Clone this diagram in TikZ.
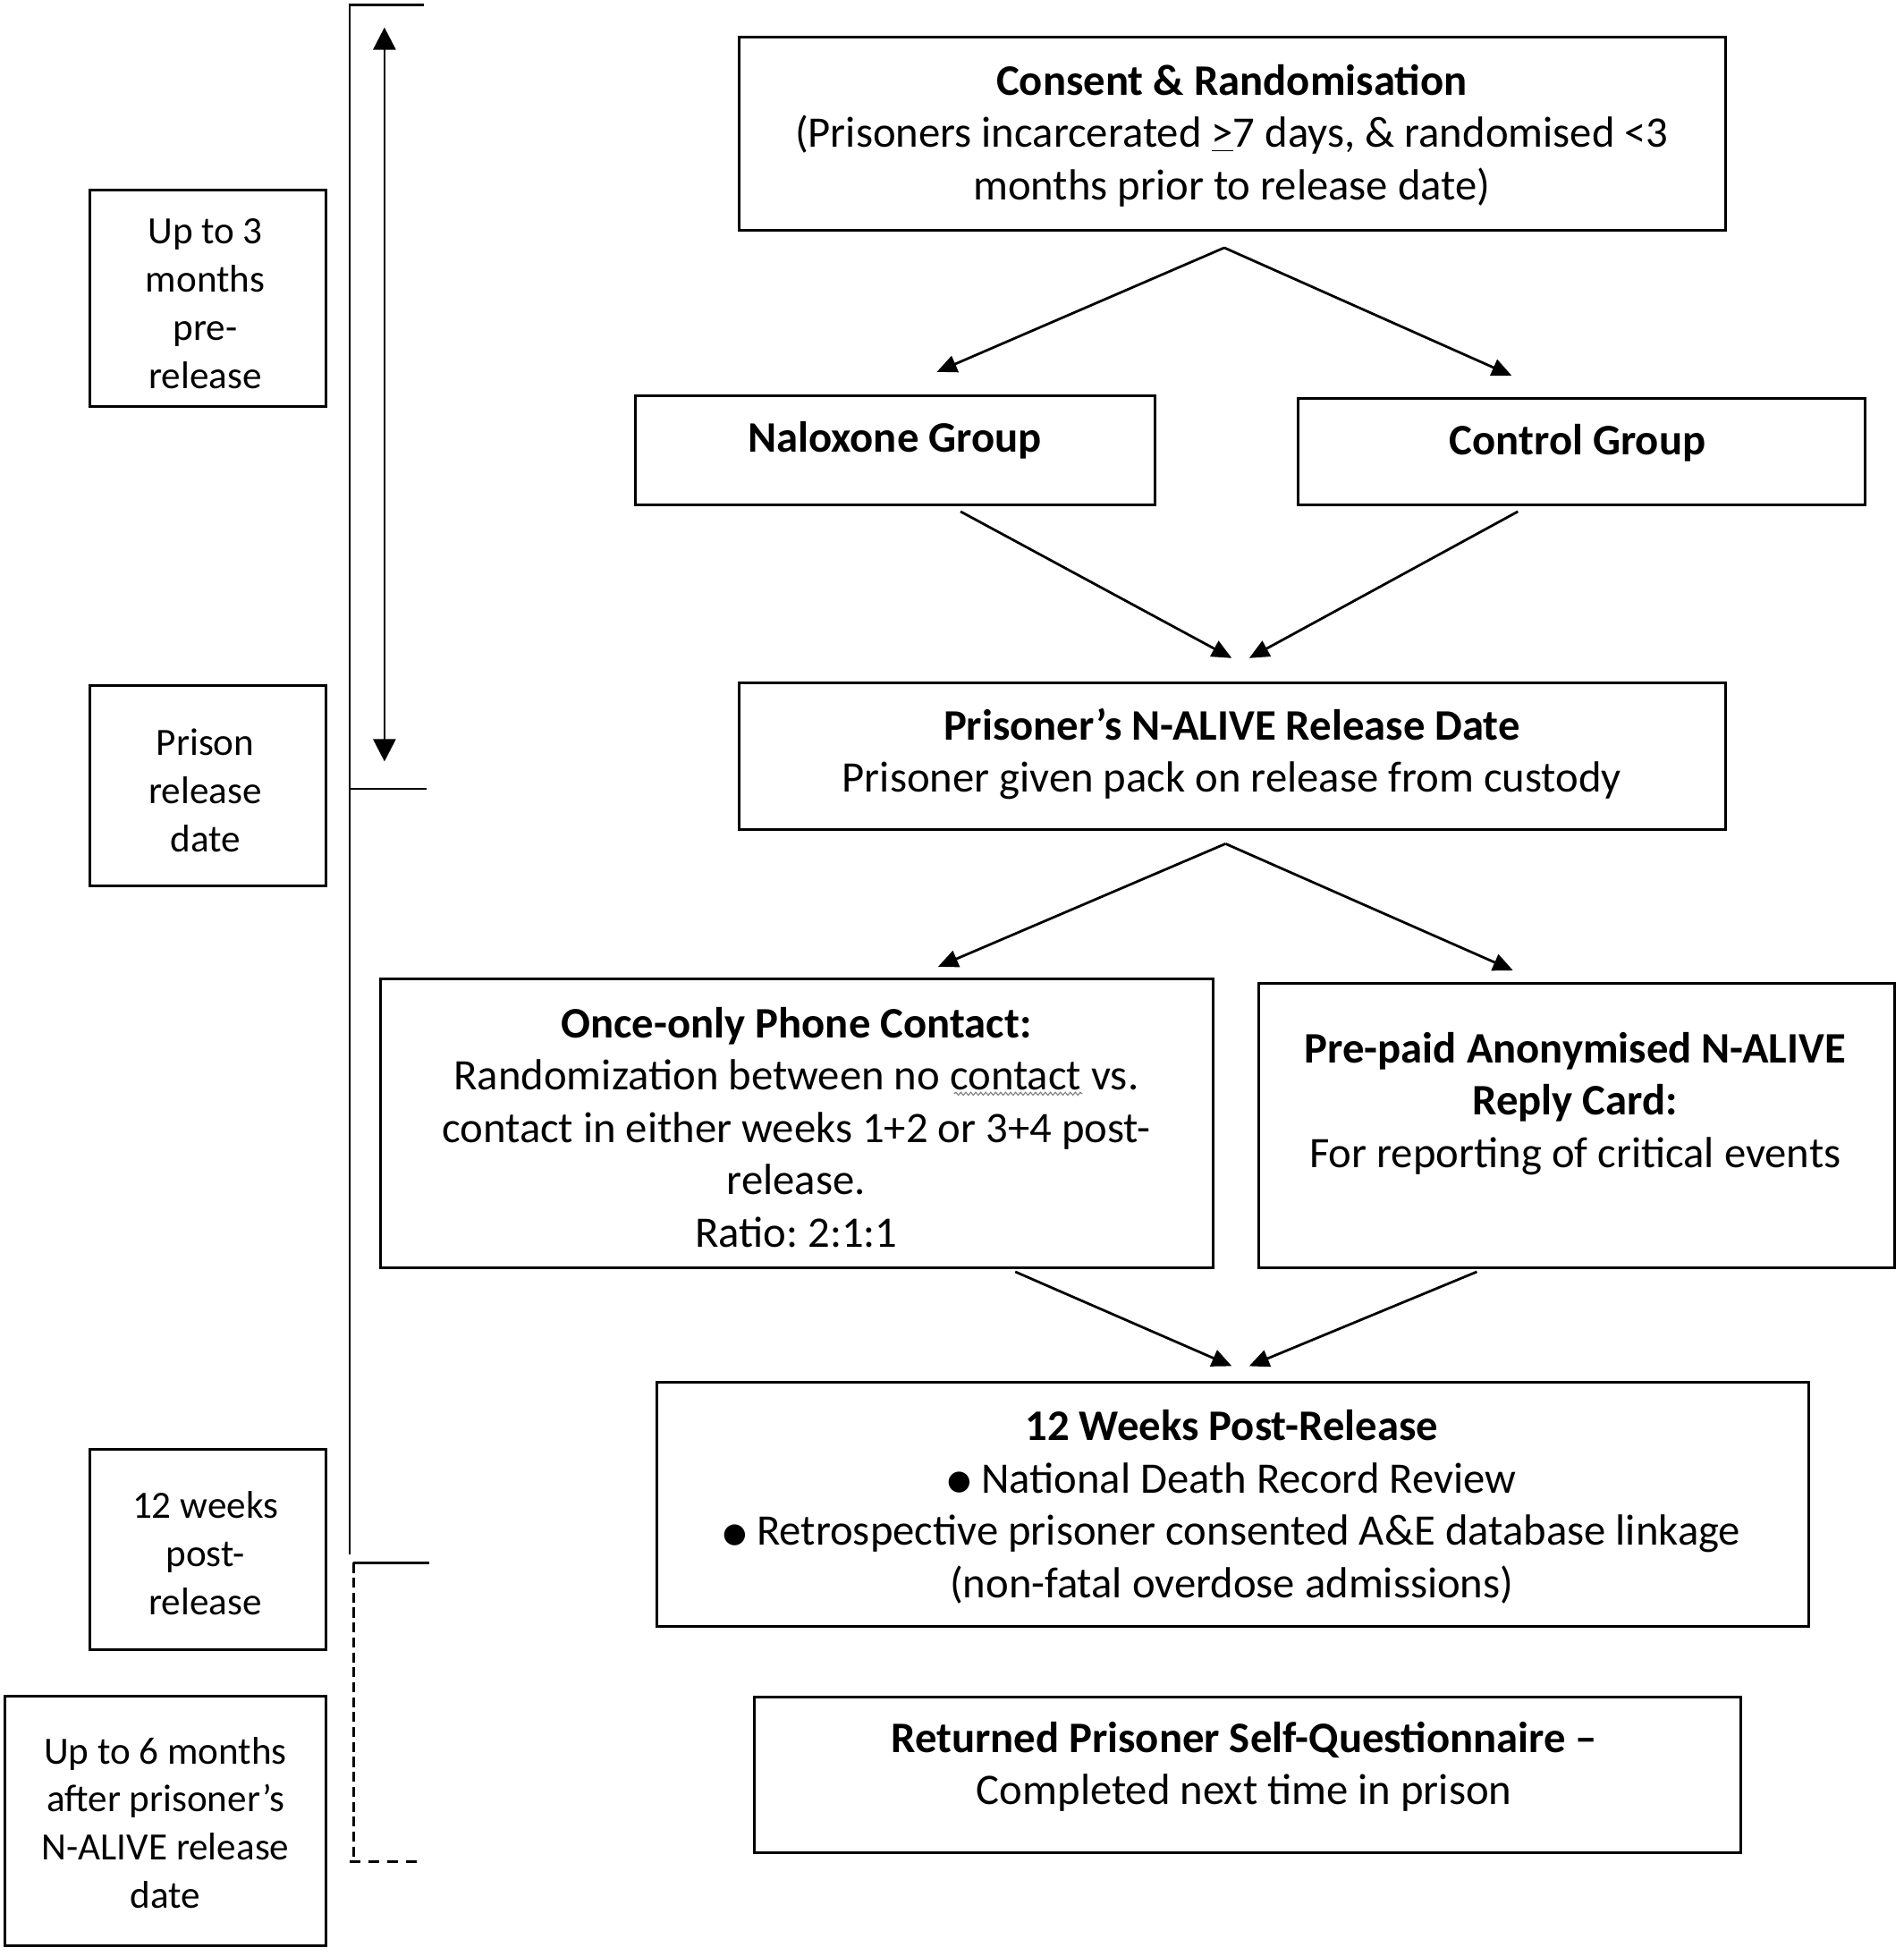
\documentclass[tikz,border=0pt]{standalone}
\usepackage{fontspec}
\setmainfont{Carlito}
\newfontfamily\symfont{DejaVu Sans}
\usetikzlibrary{arrows.meta,calc,fit,decorations.pathmorphing}
\newcommand{\bul}{\raisebox{1.3pt}{\symfont\fontsize{11}{11}\selectfont ●}}
\frenchspacing
\begin{document}
\begin{tikzpicture}[x=0.5pt,y=-0.5pt,
  box/.style={draw, line width=1.1pt, inner sep=0pt},
  txt/.style={align=center, font=\fontsize{17.5}{21}\selectfont, inner sep=0pt},
  ltxt/.style={align=center, font=\fontsize{15.5}{19.4}\selectfont, inner sep=0pt},
  arr/.style={line width=1pt, -{Triangle[length=8pt,width=7pt]}},
  tl/.style={line width=1pt}]
\useasboundingbox (0,0) rectangle (1530,1572);

% main boxes
\node[box, fit={(594,30) (1387,185)}] (consent) {};
\node[box, fit={(511,318) (928,406)}] (nal) {};
\node[box, fit={(1043,320) (1499,406)}] (ctrl) {};
\node[box, fit={(594,549) (1387,667)}] (rel) {};
\node[box, fit={(306,787) (975,1019)}] (phone) {};
\node[box, fit={(1012,790) (1523,1019)}] (reply) {};
\node[box, fit={(528,1111) (1454,1307)}] (wk) {};
\node[box, fit={(606,1364) (1399,1489)}] (ret) {};

% left boxes
\node[box, fit={(72,153) (262,327)}] (l1) {};
\node[box, fit={(72,551) (262,712)}] (l2) {};
\node[box, fit={(72,1165) (262,1326)}] (l3) {};
\node[box, fit={(4,1363) (262,1564)}] (l4) {};

% texts
\node[txt] (consentT) at (990,109) {\textbf{Consent \& Randomisation}\\(Prisoners incarcerated \underline{>}7 days, \& randomised <3\\months prior to release date)};
\node[txt] (nalT) at (719,354) {\textbf{Naloxone Group}};
\node[txt] (ctrlT) at (1268,356) {\textbf{Control Group}};
\node[txt] (relT) at (990,606) {\textbf{Prisoner’s N-ALIVE Release Date}\\Prisoner given pack on release from custody};
\node[txt] (phoneT) at (640,906) {\textbf{Once-only Phone Contact:}\\Randomization between no contact vs.\\contact in either weeks 1+2 or 3+4 post-\\release.\\Ratio: 2:1:1};
\node[txt] (replyT) at (1266,887) {\textbf{Pre-paid Anonymised N-ALIVE}\\\textbf{Reply Card:}\\For reporting of critical events};
\node[txt] (wkT) at (990,1211) {\textbf{12 Weeks Post-Release}\\\bul\ National Death Record Review\\\bul\ Retrospective prisoner consented A\&E database linkage\\(non-fatal overdose admissions)};
\node[txt] (retT) at (1000,1420) {\textbf{Returned Prisoner Self-Questionnaire –}\\Completed next time in prison};

\node[ltxt] (l1T) at (165,244) {Up to 3\\months\\pre-\\release};
\node[ltxt] (l2T) at (165,635) {Prison\\release\\date};
\node[ltxt] (l3T) at (165,1248) {12 weeks\\post-\\release};
\node[ltxt] (l4T) at (133,1465) {Up to 6 months\\after prisoner’s\\N-ALIVE release\\date};

% wavy underline
\coordinate (w1) at (767,879);
\coordinate (w2) at (870,879);
\draw[gray, line width=0.4pt, decorate, decoration={snake, amplitude=0.6pt, segment length=2pt}] (w1) -- (w2);

% flow arrows
\draw[arr] ($(consent.south)+(-6.5,13)$) -- ($(nal.north)+(33.5,-18)$);
\draw[arr] ($(consent.south)+(-6.5,13)$) -- ($(ctrl.north)+(-56,-17)$);
\draw[arr] ($(nal.south)+(52.5,4)$) -- ($(rel.north)+(-0.5,-19)$);
\draw[arr] ($(ctrl.south)+(-51,4)$) -- ($(rel.north)+(13.5,-19)$);
\draw[arr] ($(rel.south)+(-5.5,10)$) -- ($(phone.north)+(113.5,-9)$);
\draw[arr] ($(rel.south)+(-5.5,10)$) -- ($(reply.north)+(-51.5,-9)$);
\draw[arr] ($(phone.south)+(175.5,2)$) -- ($(wk.north)+(-1,-12)$);
\draw[arr] ($(reply.south)+(-80.5,2)$) -- ($(wk.north)+(13,-12)$);

% timeline
\coordinate (t0) at (281,4);
\coordinate (t0e) at (341,4);
\coordinate (t1) at (281,634);
\coordinate (t1e) at (343,634);
\coordinate (t2) at (281,1249);
\coordinate (t3) at (284,1256);
\coordinate (t3e) at (345,1256);
\coordinate (t4) at (284,1494);
\coordinate (t5) at (281,1496);
\coordinate (t5e) at (337,1496);
\draw[tl] (t0e) -- (t0) -- (t2);
\draw[tl] (t1) -- (t1e);
\draw[tl] (t3) -- (t3e);
\draw[tl, dash pattern=on 4pt off 2pt] (t3) -- (t4);
\draw[tl, dash pattern=on 4.5pt off 3pt] (t5) -- (t5e);

\coordinate (a1) at (309,22);
\coordinate (a2) at (309,612);
\draw[line width=1pt, {Triangle[length=9pt,width=9pt]}-{Triangle[length=9pt,width=9pt]}] (a1) -- (a2);
\end{tikzpicture}
\end{document}
